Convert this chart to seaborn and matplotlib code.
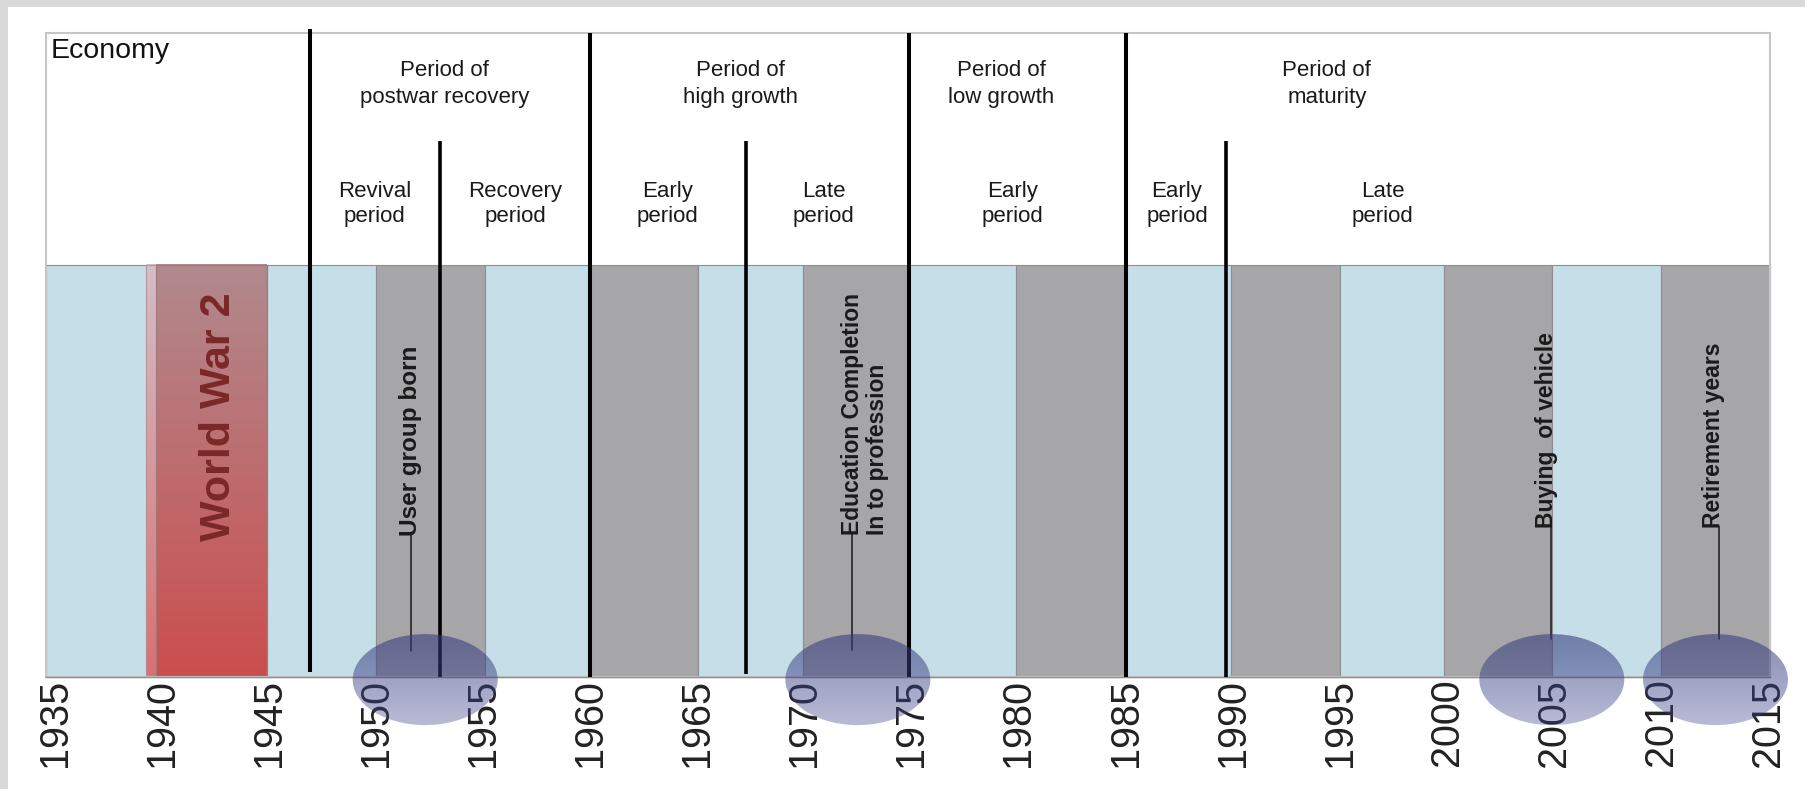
import numpy as np
import matplotlib
matplotlib.use("Agg")
import matplotlib.pyplot as plt
from matplotlib.patches import Ellipse, Rectangle
import seaborn as sns

# ---------------- data ----------------
tick_years = list(range(1935, 2016, 5))

band_edges = [1934.6, 1939.25, 1939.75, 1944.9, 1950.0, 1955.1, 1960.0, 1965.05,
              1969.95, 1974.85, 1979.9, 1985.0, 1989.9, 1995.0, 1999.85, 2004.9,
              2010.0, 2015.1]
band_kinds = ["calm", "fringe", "war", "calm", "gray", "calm", "gray", "calm",
              "gray", "calm", "gray", "calm", "gray", "calm", "gray", "calm", "gray"]

major_dividers = [1946.93, 1960.0, 1974.9, 1985.0]
minor_dividers = [1953.0, 1967.3, 1989.7]

era_labels = ["Period of\npostwar recovery", "Period of\nhigh growth",
              "Period of\nlow growth", "Period of\nmaturity"]
era_x = [1953.2, 1967.0, 1979.2, 1994.4]

phase_labels = ["Revival\nperiod", "Recovery\nperiod", "Early\nperiod", "Late\nperiod",
                "Early\nperiod", "Early\nperiod", "Late\nperiod"]
phase_x = [1949.95, 1956.5, 1963.6, 1970.9, 1979.7, 1987.4, 1997.0]

event_labels = ["User group born", "Education Completion\nIn to profession",
                "Buying  of vehicle", "Retirement years"]
event_line_x = [1951.66, 1972.24, 2004.86, 2012.7]
event_text_x = [1951.6, 1972.83, 2004.65, 2012.44]
event_circle_x = [1952.3, 1972.5, 2004.9, 2012.54]

war_label = "World War 2"
war_label_x = 1942.67

# ---------------- style ----------------
sns.set_theme(style="white")
plt.rcParams["font.family"] = ["Liberation Sans", "DejaVu Sans"]

W, H = 1806, 789
fig = plt.figure(figsize=(W / 100, H / 100), dpi=100)
fig.patch.set_facecolor("white")
fig.add_artist(Rectangle((0, 0), 8 / W, 1, transform=fig.transFigure,
                         color="#d9d9d9", lw=0, zorder=0))
fig.add_artist(Rectangle((0, 1 - 7 / H), 1, 7 / H, transform=fig.transFigure,
                         color="#d9d9d9", lw=0, zorder=0))

PX = 1.1518              # figure px per vertical data unit
y0_frac = (H - 677.3) / H
unit = PX / H
ymin = -y0_frac / unit
ytop = 565
BAND_TOP = 358
BOX_TOP = 559

x_lo, x_hi = band_edges[0], band_edges[-1]
px_left, px_right = 46.07, 1770.3
ppy = (px_right - px_left) / (x_hi - x_lo)
xlim_lo = x_lo - px_left / ppy
xlim_hi = x_hi + (W - px_right) / ppy

ax = fig.add_axes([0, 0, 1, y0_frac + ytop * unit])
ax.set_facecolor("none")

calm_c = "#c5dee8"
gray_c = "#a6a5a7"
edge_c = "#8e8e8e"


def vgrad(x0, x1, y0, y1, c_bottom, c_top, clip=None, zorder=1):
    t = np.linspace(0, 1, 256)[:, None]
    arr = (1 - t) * np.array(c_bottom) + t * np.array(c_top)
    arr = np.clip(arr[:, None, :], 0, 1)
    im = ax.imshow(arr, extent=(x0, x1, y0, y1), origin="lower", aspect="auto",
                   interpolation="bilinear", zorder=zorder)
    if clip is not None:
        im.set_clip_path(clip)
    return im


def rgba(r, g, b, a=1.0):
    return (r / 255, g / 255, b / 255, a)


# bands
for a, b, k in zip(band_edges[:-1], band_edges[1:], band_kinds):
    if k == "calm" or k == "gray":
        ax.bar(a, BAND_TOP, width=b - a, align="edge",
               color=calm_c if k == "calm" else gray_c,
               edgecolor=edge_c, linewidth=0.8, zorder=1)
    elif k == "fringe":
        vgrad(a, b, 0, BAND_TOP, rgba(218, 112, 114), rgba(210, 190, 200), zorder=1)
        ax.bar(a, BAND_TOP, width=b - a, align="edge", facecolor="none",
               edgecolor="#b09090", linewidth=0.6, zorder=1.2)
    elif k == "war":
        vgrad(a, b, 0, BAND_TOP, rgba(204, 78, 78), rgba(176, 138, 142), zorder=1)
        ax.bar(a, BAND_TOP, width=b - a, align="edge", facecolor="none",
               edgecolor="#a07878", linewidth=0.8, zorder=1.2)

# outer box of the economy panel
ax.add_patch(Rectangle((x_lo, 0), x_hi - x_lo, BOX_TOP, fill=False,
                       edgecolor="#c6c6c6", linewidth=1.5, zorder=2))

# world war label
ax.text(war_label_x, 226, war_label, rotation=90, ha="center", va="center",
        fontsize=31, fontweight="bold", color="#7a2828", zorder=3)

# period dividers
ax.vlines(major_dividers, ymin=[5, 0, 0, 0], ymax=[563, BOX_TOP, BOX_TOP, BOX_TOP],
          colors="black", linewidth=2.9, zorder=3)
ax.vlines(minor_dividers, ymin=[0, 3, 0], ymax=466, colors="black",
          linewidth=2.6, zorder=3)

# header texts
ax.text(x_lo + 0.2, 555, "Economy", ha="left", va="top", fontsize=20.5,
        color="#111111", zorder=3)
for name, x in zip(era_labels, era_x):
    ax.text(x, 515, name, ha="center", va="center", fontsize=16,
            color="#1a1a1a", linespacing=1.35, zorder=3)
for name, x in zip(phase_labels, phase_x):
    ax.text(x, 411, name, ha="center", va="center", fontsize=16,
            color="#1a1a1a", linespacing=1.3, zorder=3)

# life events
text_bottom = [123, 123.5, 130, 130]
line_bottom = [23, 24, 33, 33]
event_sizes = [17.5, 16.5, 16.5, 16.5]
for name, lx, tx, tb, lb, fs in zip(event_labels, event_line_x, event_text_x,
                                    text_bottom, line_bottom, event_sizes):
    ax.plot([lx, lx], [lb, tb + 1], color="#1a1a1a", linewidth=1.1, zorder=4)
    ax.text(tx, tb, name, rotation=90, ha="center", va="bottom", fontsize=fs,
            fontweight="bold", color="#1a1a1a", multialignment="left",
            linespacing=1.1, zorder=4)

# highlight ellipses
EW, EH, EY = 6.77, 79, -2
for cx in event_circle_x:
    e = Ellipse((cx, EY), EW, EH, facecolor="none", edgecolor="none")
    ax.add_patch(e)
    vgrad(cx - EW / 2 - 0.1, cx + EW / 2 + 0.1, EY - EH / 2 - 1, EY + EH / 2 + 1,
          rgba(60, 66, 140, 0.36), rgba(55, 60, 125, 0.6), clip=e, zorder=6)

# axis / ticks
ax.spines["bottom"].set_position(("data", 0))
ax.spines["bottom"].set_bounds(x_lo, x_hi)
ax.spines["bottom"].set_color(edge_c)
ax.spines["bottom"].set_linewidth(1.0)
for s in ["left", "right", "top"]:
    ax.spines[s].set_visible(False)
ax.set_xticks(tick_years)
ax.set_xticklabels([str(y) for y in tick_years])
ax.tick_params(axis="x", length=0, pad=1, labelrotation=90, labelsize=28.5,
               labelcolor="#222222")
ax.set_yticks([])
ax.grid(False)
ax.set_xlim(xlim_lo, xlim_hi)
ax.set_ylim(ymin, ytop)

fig.savefig("out.png", dpi=100, facecolor=fig.get_facecolor())
